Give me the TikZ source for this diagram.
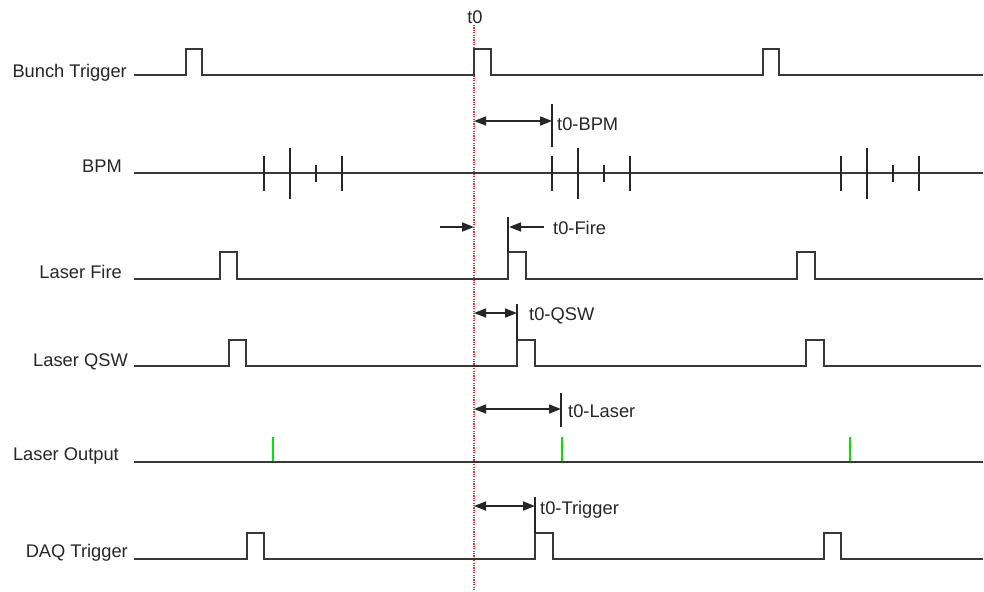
\documentclass[tikz,border=0pt]{standalone}
\usepackage{fontspec}
\setmainfont{Liberation Sans}
\usetikzlibrary{arrows.meta}
\begin{document}
\begin{tikzpicture}[x=1pt,y=-1pt,
  sig/.style={line width=2.3pt, draw=black!78, line join=miter},
  ann/.style={line width=1.7pt, draw=black!85},
  tip/.style={-{Triangle[length=12pt,width=9pt]}},
  dim/.style={ann, {Triangle[length=12pt,width=9pt]}-{Triangle[length=12pt,width=9pt]}},
  lbl/.style={font=\fontsize{18.3}{21}\selectfont, anchor=base east, inner sep=0pt, text=black!85},
  alb/.style={font=\fontsize{18.3}{21}\selectfont, anchor=base west, inner sep=0pt, text=black!85},
  t0line/.style={draw=red!85, line width=1.2pt, dash pattern=on 1.2pt off 1.2pt},
  laser/.style={draw={rgb,255:red,0;green,230;blue,0}, line width=2.8pt},
]
\useasboundingbox (0,0) rectangle (984,591);

% row labels
\node[lbl] (lbt)  at (127,78)  {Bunch Trigger};
\node[lbl] (lbpm) at (122,172) {BPM};
\node[lbl] (llf)  at (122,278) {Laser Fire};
\node[lbl] (lqsw) at (128,366) {Laser QSW};
\node[lbl] (llo)  at (119,460) {Laser Output};
\node[lbl] (ldaq) at (128,557) {DAQ Trigger};

% t0 marker
\node[font=\fontsize{18.3}{21}\selectfont, anchor=base, inner sep=0pt, text=black!85] (t0) at (475,24) {t0};
\coordinate (t0top) at (474,25);
\coordinate (t0bot) at (474,591);
\draw[t0line] (t0top) -- (t0bot);

% Bunch Trigger
\draw[sig] (134,75) -- (186,75) -- (186,49) -- (202,49) -- (202,75)
  -- (474,75) -- (474,49) -- (491,49) -- (491,75)
  -- (763,75) -- (763,49) -- (779,49) -- (779,75) -- (983,75);

% BPM
\draw[sig] (134,173) -- (983,173);
\foreach \g in {264,552,841}{
  \draw[ann] (\g,156) -- (\g,191);
  \draw[ann] (\g+26,148) -- (\g+26,199);
  \draw[ann] (\g+52,165) -- (\g+52,182);
  \draw[ann] (\g+78,156) -- (\g+78,191);
}

% Laser Fire
\draw[sig] (134,279) -- (220,279) -- (220,252) -- (237,252) -- (237,279)
  -- (508,279) -- (508,252) -- (526,252) -- (526,279)
  -- (797,279) -- (797,252) -- (815,252) -- (815,279) -- (983,279);

% Laser QSW
\draw[sig] (134,366) -- (229,366) -- (229,340) -- (246,340) -- (246,366)
  -- (517,366) -- (517,340) -- (535,340) -- (535,366)
  -- (806,366) -- (806,340) -- (824,340) -- (824,366) -- (981,366);

% Laser Output
\draw[sig] (134,462) -- (983,462);
\foreach \x in {273,562,850}{
  \draw[laser] (\x,437) -- (\x,461);
}

% DAQ Trigger
\draw[sig] (134,559) -- (247,559) -- (247,533) -- (264,533) -- (264,559)
  -- (535,559) -- (535,533) -- (553,533) -- (553,559)
  -- (824,559) -- (824,533) -- (841,533) -- (841,559) -- (983,559);

% t0-BPM
\coordinate (bpmL) at (474,121);
\coordinate (bpmR) at (552,121);
\draw[ann] (552,104) -- (552,147);
\draw[dim] (bpmL) -- (bpmR);
\node[alb] (tbpm) at (557,130) {t0-BPM};

% t0-Fire
\coordinate (fireL0) at (440,227);
\coordinate (fireL1) at (474,227);
\coordinate (fireR0) at (544,227);
\coordinate (fireR1) at (509,227);
\draw[ann] (508,217) -- (508,252);
\draw[ann,tip] (fireL0) -- (fireL1);
\draw[ann,tip] (fireR0) -- (fireR1);
\node[alb] (tfire) at (553,234) {t0-Fire};

% t0-QSW
\coordinate (qswL) at (474,313);
\coordinate (qswR) at (517,313);
\draw[ann] (517,304) -- (517,340);
\draw[dim] (qswL) -- (qswR);
\node[alb] (tqsw) at (529,320) {t0-QSW};

% t0-Laser
\coordinate (lasL) at (474,409);
\coordinate (lasR) at (561,409);
\draw[ann] (561,393) -- (561,427);
\draw[dim] (lasL) -- (lasR);
\node[alb] (tlas) at (568,417) {t0-Laser};

% t0-Trigger
\coordinate (trgL) at (474,506);
\coordinate (trgR) at (535,506);
\draw[ann] (535,497) -- (535,533);
\draw[dim] (trgL) -- (trgR);
\node[alb] (ttrg) at (540,514) {t0-Trigger};
\end{tikzpicture}
\end{document}
